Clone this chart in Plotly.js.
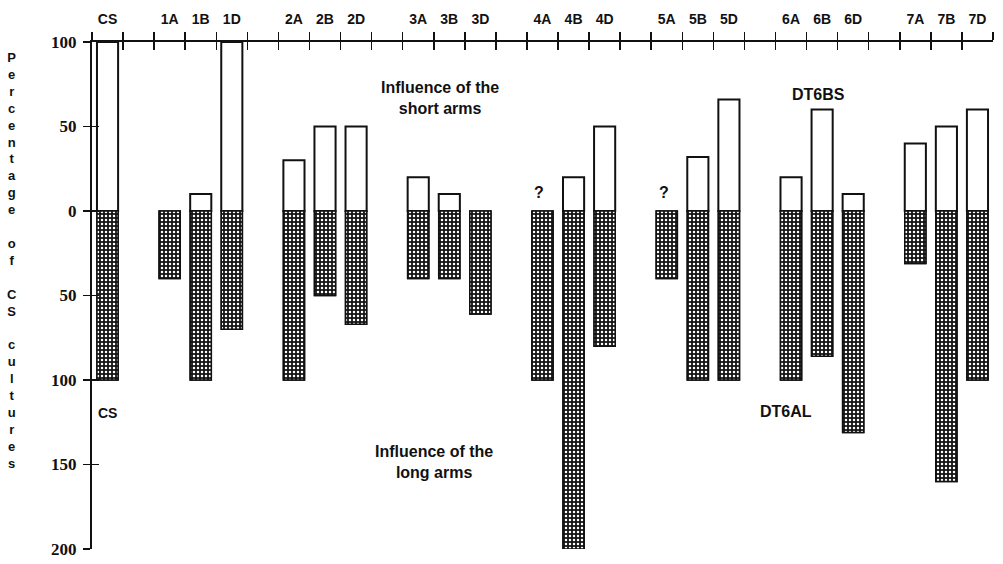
<!DOCTYPE html>
<html>
<head>
<meta charset="utf-8">
<script src="https://cdn.plot.ly/plotly-3.0.1.min.js"></script>
<style>html,body{margin:0;padding:0;background:#fff;}#chart{width:1003px;height:564px;}</style>
</head>
<body>
<div id="chart"></div>
<script>
// Chromosome arm categories (CS = Chinese Spring control)
const categories = ['CS','1A','1B','1D','2A','2B','2D','3A','3B','3D','4A','4B','4D','5A','5B','5D','6A','6B','6D','7A','7B','7D'];
// Influence of the short arms (% of CS cultures), null = no bar
const shortArms = [100, null, 10, 100, 30, 50, 50, 20, 10, null, null, 20, 50, null, 32, 66, 20, 60, 10, 40, 50, 60];
// Influence of the long arms (% of CS cultures)
const longArms = [100, 40, 100, 70, 100, 50, 67, 40, 40, 61, 100, 200, 80, 40, 100, 100, 100, 86, 131, 31, 160, 100];
// Categories whose short-arm value is unknown
const unknownShort = ['4A', '5A'];
// y-axis ticks
const yTickVals = [100, 50, 0, -50, -100, -150, -200];
const yTickText = ['100', '50', '0', '50', '100', '150', '200'];

// slot position derived from chromosome label: CS first, one empty slot between homoeologous groups
function slotOf(label) {
  if (label === 'CS') return 0;
  const g = parseInt(label[0], 10);
  const gi = 'ABD'.indexOf(label[1]);
  return 4 * (g - 1) + 2 + gi;
}
const xPos = categories.map(slotOf);
const nSlots = Math.max(...xPos) + 1;
const bounds = [];
for (let k = 0; k <= nSlots; k++) bounds.push(k - 0.5);

const FAM = 'Liberation Sans, Arial, sans-serif';
const sansBold = {family: FAM, size: 16, color: '#111', weight: 'bold'};
const longNeg = longArms.map(v => -v);

const traces = [
  {
    type: 'bar', x: xPos, y: shortArms, base: 0, width: 0.68,
    marker: {color: 'white', line: {color: '#111', width: 2}},
    hoverinfo: 'skip', showlegend: false
  },
  {
    type: 'bar', x: xPos, y: longNeg, base: 0, width: 0.68,
    marker: {color: '#3a3a3a', line: {color: '#111', width: 1.5}},
    hoverinfo: 'skip', showlegend: false
  },
  {
    type: 'bar', x: xPos, y: longNeg, base: 0, width: 0.68,
    marker: {
      color: '#111',
      line: {color: '#111', width: 1.5},
      pattern: {shape: '.', fillmode: 'replace', bgcolor: '#151515', fgcolor: '#ffffff', size: 4, solidity: 0.3}
    },
    hoverinfo: 'skip', showlegend: false
  }
];

const annotations = [
  {xref: 'paper', yref: 'paper', x: -0.0888, y: 0.569, xanchor: 'center', yanchor: 'middle', showarrow: false,
   text: 'P<br>e<br>r<br>c<br>e<br>n<br>t<br>a<br>g<br>e<br> <br>o<br>f<br> <br>C<br>S<br> <br>c<br>u<br>l<br>t<br>u<br>r<br>e<br>s',
   font: {family: FAM, size: 13, color: '#111', weight: 'bold'}},
  {xref: 'x', yref: 'y', x: 10.7, y: 66.6, showarrow: false, text: 'Influence of the<br>short arms', font: sansBold},
  {xref: 'x', yref: 'y', x: 10.5, y: -148.5, showarrow: false, text: 'Influence of the<br>long arms', font: sansBold},
  {xref: 'x', yref: 'y', x: 22.87, y: 69.2, showarrow: false, text: 'DT6BS', font: sansBold},
  {xref: 'x', yref: 'y', x: 21.84, y: -118.9, showarrow: false, text: 'DT6AL', font: sansBold},
  {xref: 'x', yref: 'y', x: 0, y: -119.5, showarrow: false, text: 'CS', font: Object.assign({}, sansBold, {size: 14})}
];
unknownShort.forEach(c => {
  annotations.push({xref: 'x', yref: 'y', x: slotOf(c) - 0.1, y: 11.2, showarrow: false, text: '?',
    font: Object.assign({}, sansBold, {size: 16})});
});

const xRange = [-0.5, nSlots - 0.5];
const layout = {
  width: 1003, height: 564,
  margin: {l: 92, r: 10, t: 42, b: 15},
  paper_bgcolor: 'white', plot_bgcolor: 'white',
  barmode: 'overlay',
  xaxis: {
    range: xRange, side: 'top', showline: true, linecolor: '#111', linewidth: 2,
    tickmode: 'array', tickvals: bounds, ticks: 'outside', ticklen: 8, tickwidth: 1.5, tickcolor: '#111',
    showticklabels: false, showgrid: false, zeroline: false, fixedrange: true
  },
  xaxis2: {
    range: xRange, overlaying: 'x', side: 'top', showline: false,
    tickmode: 'array', tickvals: bounds, ticks: 'inside', ticklen: 8, tickwidth: 1.5, tickcolor: '#111',
    showticklabels: false, showgrid: false, zeroline: false
  },
  xaxis3: {
    range: xRange, overlaying: 'x', side: 'top', showline: false,
    tickmode: 'array', tickvals: xPos, ticktext: categories, ticks: '',
    ticklabelstandoff: 14,
    tickfont: {family: FAM, size: 14, color: '#111', weight: 'bold'},
    showgrid: false, zeroline: false
  },
  yaxis: {
    range: [-200, 100], showline: true, linecolor: '#111', linewidth: 2,
    tickmode: 'array', tickvals: yTickVals, ticktext: yTickText,
    ticks: 'outside', ticklen: 7, tickwidth: 1.5, tickcolor: '#111',
    ticklabelstandoff: 3,
    tickfont: {family: 'Liberation Serif, Times New Roman, serif', size: 17, color: '#111', weight: 'bold'},
    showgrid: false, zeroline: false, fixedrange: true
  },
  yaxis2: {
    range: [-200, 100], overlaying: 'y', showline: false,
    tickmode: 'array', tickvals: yTickVals, ticks: 'inside', ticklen: 7, tickwidth: 1.5, tickcolor: '#111',
    showticklabels: false, showgrid: false, zeroline: false
  },
  annotations: annotations
};

// invisible helper traces so overlaying axes are drawn
traces.push({type: 'scatter', x: [null], y: [null], xaxis: 'x2', yaxis: 'y2', hoverinfo: 'skip', showlegend: false});
traces.push({type: 'scatter', x: [null], y: [null], xaxis: 'x3', yaxis: 'y', hoverinfo: 'skip', showlegend: false});

Plotly.newPlot('chart', traces, layout, {staticPlot: true, displayModeBar: false});
</script>
</body>
</html>
